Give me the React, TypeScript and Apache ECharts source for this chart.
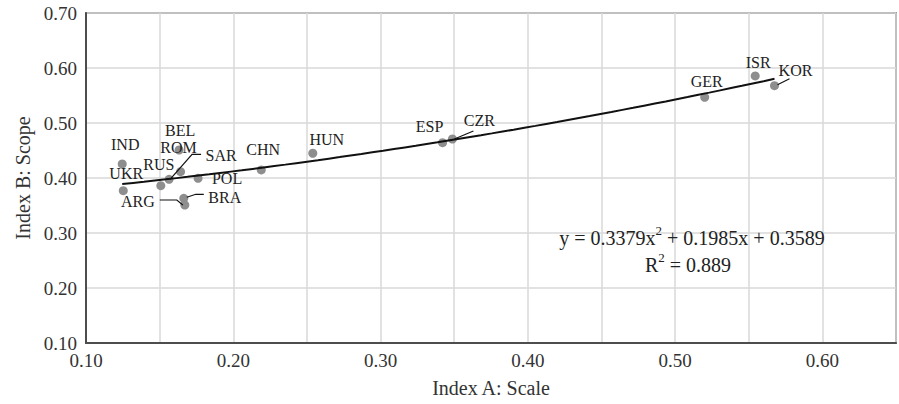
import React, { useEffect, useRef } from "react";
import * as echarts from "echarts";

// ---- Data ----
const countries = ["IND", "UKR", "RUS", "SAR", "ROM", "BEL", "POL", "BRA", "ARG", "CHN", "HUN", "ESP", "CZR", "GER", "ISR", "KOR"];
const indexAScale = [0.1246, 0.1253, 0.1508, 0.1564, 0.1642, 0.1632, 0.1761, 0.1664, 0.1671, 0.2190, 0.2540, 0.3421, 0.3488, 0.5201, 0.5544, 0.5675];
const indexBScope = [0.4255, 0.3769, 0.3860, 0.3976, 0.4115, 0.4509, 0.3995, 0.3631, 0.3509, 0.4146, 0.4450, 0.4642, 0.4709, 0.5467, 0.5855, 0.5678];

// Trendline (polynomial, order 2) coefficients as printed on the chart: [a, b, c]
const trendCoefficients = [0.3379, 0.1985, 0.3589];
const rSquared = 0.889;

const xTicks = [0.1, 0.2, 0.3, 0.4, 0.5, 0.6];
const yTicks = [0.1, 0.2, 0.3, 0.4, 0.5, 0.6, 0.7];

// ---- Label layout (style, pixel offsets from the marker centre) ----
const labelOffsets: Record<string, [number, number]> = {
  IND: [3, -19],
  UKR: [3, -17],
  RUS: [-2, -21],
  SAR: [52, -24],
  ROM: [-2, -24],
  BEL: [1, -20],
  POL: [29, 0],
  BRA: [41, -1],
  ARG: [-47, -4],
  CHN: [2, -20],
  HUN: [14, -14],
  ESP: [-13, -16],
  CZR: [27, -19],
  GER: [2, -16],
  ISR: [3, -13],
  KOR: [21, -15],
};

const leaderLines: Record<string, [number, number][]> = {
  SAR: [[1, 0], [23, -25], [32, -25]],
  BRA: [[3, -1], [12, -4], [20, -4]],
  ARG: [[-2, 0], [-8, -5], [-25, -5]],
  CZR: [[2, 0], [21, -8]],
  KOR: [[3, -1], [15, -7]],
};

const SERIF = '"Liberation Serif", "DejaVu Serif", serif';

const richEq = {
  b: { fontFamily: SERIF, fontSize: 20, lineHeight: 24, verticalAlign: "bottom", fill: "#222", color: "#222" },
  sup: { fontFamily: SERIF, fontSize: 13, lineHeight: 24, verticalAlign: "top", fill: "#222", color: "#222" },
};

export default function App() {
  const ref = useRef<HTMLDivElement>(null);

  useEffect(() => {
    if (!ref.current) return;
    const chart = echarts.init(ref.current, null, { renderer: "svg" });

    const points = countries.map((name, i) => ({
      name,
      value: [indexAScale[i], indexBScope[i]],
      label: {
        show: true,
        position: "inside",
        offset: labelOffsets[name],
        formatter: name,
      },
    }));

    const xMinData = Math.min(...indexAScale);
    const xMaxData = Math.max(...indexAScale);
    const [a, b, c] = trendCoefficients;
    const trendSteps = 60;
    const trend: number[][] = [];
    for (let k = 0; k <= trendSteps; k++) {
      const x = xMinData + ((xMaxData - xMinData) * k) / trendSteps;
      trend.push([x, a * x * x + b * x + c]);
    }

    const leaderData = countries
      .map((name, i) => ({ name, value: [indexAScale[i], indexBScope[i]] }))
      .filter((d) => leaderLines[d.name]);

    const option: any = {
      animation: false,
      backgroundColor: "#ffffff",
      textStyle: { fontFamily: SERIF },
      grid: {
        left: 86,
        right: 1,
        top: 13,
        bottom: 61,
        show: true,
        borderColor: "#4d4d4d",
        borderWidth: 1.5,
        backgroundColor: "transparent",
      },
      xAxis: {
        type: "value",
        min: 0.1,
        max: 0.65,
        interval: 0.05,
        name: "Index A: Scale",
        nameLocation: "middle",
        nameGap: 35,
        nameTextStyle: { fontFamily: SERIF, fontSize: 20, color: "#333" },
        axisLine: { show: true, onZero: false, lineStyle: { color: "#4d4d4d", width: 2 } },
        axisTick: { show: false },
        splitLine: { show: true, lineStyle: { color: "#d9d9d9", width: 1.5 } },
        axisLabel: {
          fontFamily: SERIF,
          fontSize: 19,
          color: "#333",
          margin: 8,
          formatter: (v: number) => {
            const hit = xTicks.find((t) => Math.abs(t - v) < 1e-6);
            return hit !== undefined ? hit.toFixed(2) : "";
          },
        },
      },
      yAxis: {
        type: "value",
        min: 0.1,
        max: 0.7,
        interval: 0.1,
        name: "Index B: Scope",
        nameLocation: "middle",
        nameGap: 52,
        nameTextStyle: { fontFamily: SERIF, fontSize: 20, color: "#333" },
        axisLine: { show: true, onZero: false, lineStyle: { color: "#4d4d4d", width: 2 } },
        axisTick: { show: false },
        splitLine: { show: true, lineStyle: { color: "#d9d9d9", width: 1.5 } },
        axisLabel: {
          fontFamily: SERIF,
          fontSize: 19,
          color: "#333",
          margin: 9,
          formatter: (v: number) => {
            const hit = yTicks.find((t) => Math.abs(t - v) < 1e-6);
            return hit !== undefined ? hit.toFixed(2) : "";
          },
        },
      },
      series: [
        {
          type: "line",
          data: trend,
          showSymbol: false,
          smooth: false,
          lineStyle: { color: "#111", width: 2 },
          z: 3,
          silent: true,
        },
        {
          type: "custom",
          data: leaderData,
          z: 4,
          silent: true,
          renderItem: (params: any, api: any) => {
            const name = leaderData[params.dataIndex].name;
            const p = api.coord([api.value(0), api.value(1)]);
            const pts = leaderLines[name].map((o) => [p[0] + o[0], p[1] + o[1]]);
            return {
              type: "polyline",
              shape: { points: pts },
              style: { stroke: "#111", lineWidth: 1.2, fill: null },
            };
          },
        },
        {
          type: "scatter",
          data: points,
          symbol: "circle",
          symbolSize: 9,
          itemStyle: { color: "#8e8e8e", opacity: 1 },
          z: 2,
          label: {
            color: "#222",
            fontFamily: SERIF,
            fontSize: 16,
          },
        },
      ],
      graphic: [
        {
          type: "text",
          z: 10,
          style: {
            x: 692,
            y: 236,
            align: "center",
            verticalAlign: "middle",
            text: `{b|y = ${a}x}{sup|2}{b| + ${b}x + ${c}}`,
            fontFamily: SERIF,
            fontSize: 20,
            fill: "#222",
            rich: richEq,
          },
        },
        {
          type: "text",
          z: 10,
          style: {
            x: 688,
            y: 263,
            align: "center",
            verticalAlign: "middle",
            text: `{b|R}{sup|2}{b| = ${rSquared}}`,
            fontFamily: SERIF,
            fontSize: 20,
            fill: "#222",
            rich: richEq,
          },
        },
      ],
    };

    chart.setOption(option);
    return () => chart.dispose();
  }, []);

  return <div ref={ref} style={{ width: 899, height: 404, position: "absolute", left: 0, top: 0 }} />;
}
